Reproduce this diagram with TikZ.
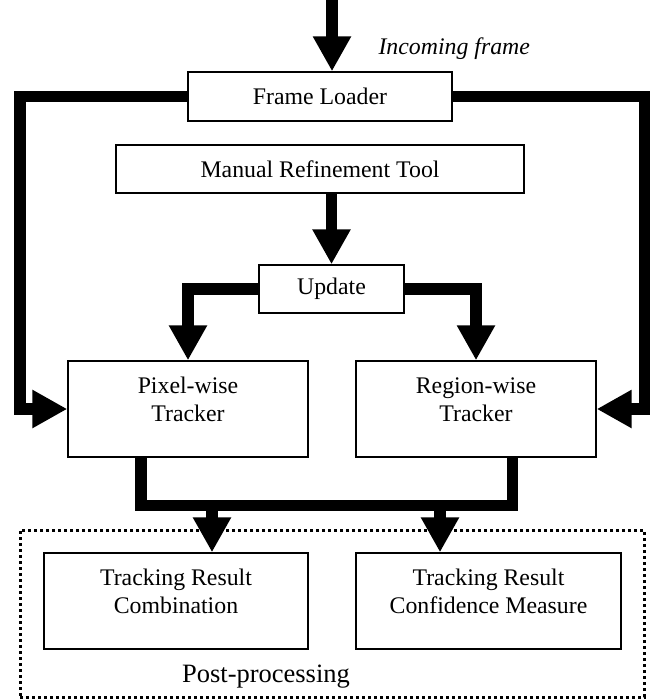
\documentclass[tikz,border=0pt]{standalone}
\usepackage{fontspec}
\setmainfont{Liberation Serif}
\usetikzlibrary{arrows.meta}

\begin{document}
\begin{tikzpicture}[x=1pt, y=-1pt,
    font=\fontsize{23.8}{28}\selectfont,
    box/.style={draw, line width=1.4pt, inner sep=0pt, align=center},
    caption/.style={align=center},
    wire/.style={line width=11.5pt},
    flow/.style={wire, -{Triangle[width=36pt, length=35pt]}}]
    \useasboundingbox (0,0) rectangle (660,700);

    % post-processing frame
    \node[draw, line width=3pt, dash pattern=on 3pt off 3pt, minimum width=624pt, minimum height=167pt] (post) at (332,613.5) {};
    \node[anchor=base, font=\fontsize{26.5}{30}\selectfont] (postlbl) at (266,682) {Post-processing};

    \node[box, minimum width=264pt, minimum height=49pt] (load) at (320,96.5) {Frame Loader};
    \node[box, minimum width=408pt, minimum height=48pt] (man) at (320,169) {Manual Refinement Tool};
    \node[box, minimum width=145pt, minimum height=48pt] (upd) at (331.5,289) {Update};
    \node[box, minimum width=240pt, minimum height=96pt, label={[caption, yshift=9.5pt]center:Pixel-wise\\Tracker}] (pix) at (188,409) {};
    \node[box, minimum width=240pt, minimum height=96pt, label={[caption, yshift=9.5pt]center:Region-wise\\Tracker}] (reg) at (476,409) {};
    \node[box, minimum width=264pt, minimum height=96pt, label={[caption, yshift=9.5pt]center:Tracking Result\\Combination}] (comb) at (176,601) {};
    \node[box, minimum width=265pt, minimum height=96pt, label={[caption, yshift=9.5pt]center:Tracking Result\\Confidence Measure}] (conf) at (488.5,601) {};

    \coordinate (src) at (332,0);
    \node[anchor=base west, font=\fontsize{23.8}{28}\selectfont\itshape] (inlbl) at (375,55) {Incoming frame};

    \coordinate (lft) at (20,0);
    \coordinate (rgt) at (644.5,0);
    \coordinate (jl) at (141,505.5);
    \coordinate (jr) at (512.5,505.5);
    \coordinate (a1) at (212,505.5);
    \coordinate (a2) at (440,505.5);

    \draw[flow] (src) -- (src |- load.north);
    \draw[flow] (load.west) -| (lft |- pix.west) -- (pix.west);
    \draw[flow] (load.east) -| (rgt |- reg.east) -- (reg.east);
    \draw[flow] (man.south -| upd.north) -- (upd.north);
    \draw[flow] (upd.west) -| (pix.north);
    \draw[flow] (upd.east) -| (reg.north);

    % results of both trackers
    \draw[wire] (pix.south -| jl) |- (jr) -- (reg.south -| jr);
    \draw[flow] (a1) -- (a1 |- comb.north);
    \draw[flow] (a2) -- (a2 |- conf.north);
\end{tikzpicture}
\end{document}
